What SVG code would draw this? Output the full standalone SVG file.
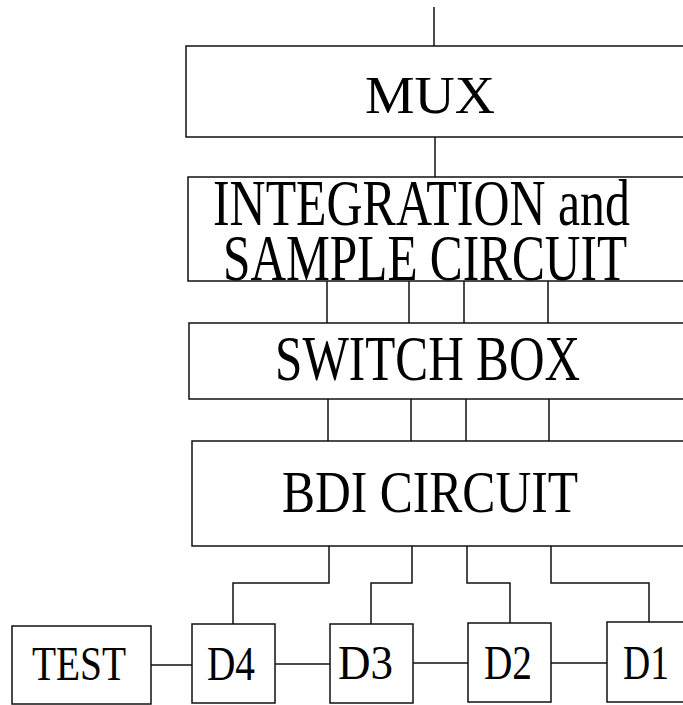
<svg xmlns="http://www.w3.org/2000/svg" width="683" height="705" viewBox="0 0 683 705">
<style>
.box{fill:none;stroke:#111;stroke-width:1.5}
.wire{fill:none;stroke:#111;stroke-width:1.5}
.lbl{font-family:"Liberation Serif","Times New Roman",serif;fill:#000}
</style>
<rect x="0" y="0" width="683" height="705" fill="#fff"/>
<g id="connectors">
<path class="wire" d="M434 7V46"/>
<path class="wire" d="M435 137V177"/>
<path class="wire" d="M327 281V323M409 281V323M464 281V323M548 281V323"/>
<path class="wire" d="M328 399V441M411 399V441M466 399V441M549 399V441"/>
<path class="wire" d="M329 546V583H233V624"/>
<path class="wire" d="M412 546V583H371V624"/>
<path class="wire" d="M467 546V583H510V623"/>
<path class="wire" d="M551 546V583H649V622"/>
<path class="wire" d="M151 665H192M275 664H330M413 663H468M551 663H607"/>
</g>
<g id="mux">
<rect class="box" x="186" y="46" width="510" height="91"/>
<text class="lbl" x="365" y="113" font-size="53" textLength="130" lengthAdjust="spacingAndGlyphs">MUX</text>
</g>
<g id="integration">
<rect class="box" x="188" y="177" width="510" height="104"/>
<text class="lbl" x="213" y="225" font-size="66" textLength="417" lengthAdjust="spacingAndGlyphs">INTEGRATION and</text>
<text class="lbl" x="223" y="280" font-size="66" textLength="404" lengthAdjust="spacingAndGlyphs">SAMPLE CIRCUIT</text>
</g>
<g id="switchbox">
<rect class="box" x="189" y="323" width="510" height="76"/>
<text class="lbl" x="275" y="380" font-size="63" textLength="305" lengthAdjust="spacingAndGlyphs">SWITCH BOX</text>
</g>
<g id="bdi">
<rect class="box" x="192" y="441" width="510" height="105"/>
<text class="lbl" x="282" y="512" font-size="60" textLength="296" lengthAdjust="spacingAndGlyphs">BDI CIRCUIT</text>
</g>
<g id="test">
<rect class="box" x="12" y="626" width="139" height="78"/>
<text class="lbl" x="32" y="680" font-size="48" textLength="94" lengthAdjust="spacingAndGlyphs">TEST</text>
</g>
<g id="d4">
<rect class="box" x="192" y="624" width="83" height="79"/>
<text class="lbl" x="207" y="680" font-size="48" textLength="48" lengthAdjust="spacingAndGlyphs">D4</text>
</g>
<g id="d3">
<rect class="box" x="330" y="624" width="83" height="79"/>
<text class="lbl" x="338" y="679" font-size="48" textLength="55" lengthAdjust="spacingAndGlyphs">D3</text>
</g>
<g id="d2">
<rect class="box" x="468" y="623" width="83" height="79"/>
<text class="lbl" x="484" y="679" font-size="48" textLength="48" lengthAdjust="spacingAndGlyphs">D2</text>
</g>
<g id="d1">
<rect class="box" x="607" y="622" width="90" height="80"/>
<text class="lbl" x="623" y="679" font-size="48" textLength="46" lengthAdjust="spacingAndGlyphs">D1</text>
</g>
</svg>
